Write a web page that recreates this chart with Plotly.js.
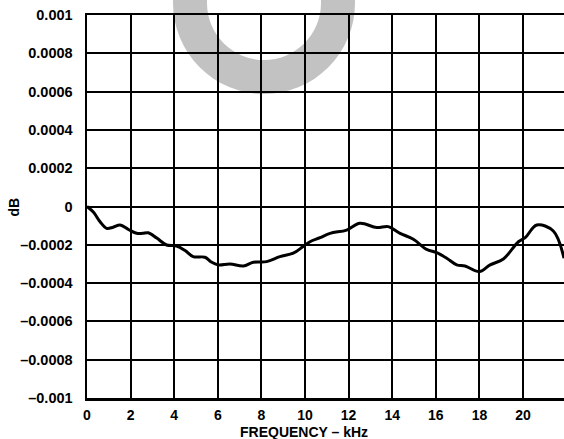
<!DOCTYPE html>
<html>
<head>
<meta charset="utf-8">
<script src="https://cdn.plot.ly/plotly-3.0.1.min.js"></script>
<style>html,body{margin:0;padding:0;background:#fff;}#chart{width:564px;height:439px;}</style>
</head>
<body>
<div id="chart"></div>
<script>
var freqKHz = [0, 0.3, 0.6, 0.9, 1.2, 1.52, 1.9, 2.28, 2.55, 2.81, 3.2, 3.65, 4.11, 4.5, 4.87, 5.41, 5.7, 6.02, 6.56, 7.17, 7.63, 8.24, 8.85, 9.46, 9.9, 10.23, 10.69, 11.15, 11.91, 12.52, 13.29, 13.82, 14.36, 14.97, 15.58, 16.04, 16.5, 16.96, 17.34, 18.0, 18.49, 19.1, 19.79, 20.1, 20.63, 21.39, 21.88];
var gainDB = [0, -0.00003, -0.00008, -0.000114, -0.000108, -0.0000966, -0.00012, -0.00014, -0.00014, -0.000137, -0.000165, -0.000201, -0.000206, -0.00023, -0.000262, -0.000265, -0.00029, -0.000305, -0.0003, -0.000311, -0.000291, -0.000288, -0.000262, -0.000244, -0.00021, -0.000184, -0.000163, -0.00014, -0.000123, -0.0000877, -0.00011, -0.000105, -0.00014, -0.000171, -0.000224, -0.000241, -0.00027, -0.000305, -0.000311, -0.00034, -0.000305, -0.000274, -0.000184, -0.000163, -0.0000966, -0.000128, -0.00027];
var xTickVals = [0, 2, 4, 6, 8, 10, 12, 14, 16, 18, 20];
var xTickText = ['0', '2', '4', '6', '8', '10', '12', '14', '16', '18', '20'];
var yTickVals = [0.001, 0.0008, 0.0006, 0.0004, 0.0002, 0, -0.0002, -0.0004, -0.0006, -0.0008, -0.001];
var yTickText = ['0.001', '0.0008', '0.0006', '0.0004', '0.0002', '0', '\u20130.0002', '\u20130.0004', '\u20130.0006', '\u20130.0008', '\u20130.001'];
var xTitle = 'FREQUENCY \u2013 kHz';
var yTitle = 'dB';

var W = 564, H = 439, L = 87, R = 0, T = 15, B = 41;
function px(xp) { return (xp - L) / (W - L - R); }
function py(yp) { return (H - B - yp) / (H - T - B); }
var FAM = 'Liberation Sans, Arial, sans-serif';

var trace = {
  x: freqKHz, y: gainDB, type: 'scatter', mode: 'lines',
  line: {color: '#000', width: 3, shape: 'spline', smoothing: 1},
  hoverinfo: 'skip', showlegend: false
};

var layout = {
  width: W, height: H,
  margin: {l: L, r: R, t: T, b: B, pad: 0},
  paper_bgcolor: '#fff', plot_bgcolor: 'rgba(0,0,0,0)',
  font: {family: FAM, size: 14, color: '#000', weight: 'bold'},
  showlegend: false,
  xaxis: {
    range: [0, 21.88], tickvals: xTickVals, ticktext: xTickText,
    showgrid: true, gridcolor: '#000', gridwidth: 2,
    showline: true, linecolor: '#000', linewidth: 2.5, mirror: true,
    ticks: '', zeroline: false, ticklabelstandoff: 3,
    tickfont: {family: FAM, size: 14, color: '#000', weight: 'bold'}
  },
  yaxis: {
    range: [-0.001, 0.001], tickvals: yTickVals, ticktext: yTickText,
    showgrid: true, gridcolor: '#000', gridwidth: 2,
    showline: true, linecolor: '#000', linewidth: 2.5, mirror: false,
    ticks: '', zeroline: false, ticklabelstandoff: 9,
    tickfont: {family: FAM, size: 14.5, color: '#000', weight: 'bold'}
  },
  annotations: [
    {text: xTitle, xref: 'paper', yref: 'paper', x: px(303.5), y: py(432), xanchor: 'center', yanchor: 'middle',
     showarrow: false, font: {family: FAM, size: 14, color: '#000', weight: 'bold'}},
    {text: yTitle, xref: 'paper', yref: 'paper', x: px(13.5), y: py(207), xanchor: 'center', yanchor: 'middle',
     textangle: -90, showarrow: false, font: {family: FAM, size: 14, color: '#000', weight: 'bold'}}
  ],
  shapes: [
    {type: 'circle', layer: 'below', xref: 'paper', yref: 'paper',
     xsizemode: 'pixel', ysizemode: 'pixel', xanchor: px(264), yanchor: py(3),
     x0: -91, x1: 91, y0: -91, y1: 91,
     fillcolor: '#c2c2c2', line: {width: 0}},
    {type: 'circle', layer: 'below', xref: 'paper', yref: 'paper',
     xsizemode: 'pixel', ysizemode: 'pixel', xanchor: px(264), yanchor: py(3),
     x0: -57, x1: 57, y0: -57, y1: 57,
     fillcolor: '#ffffff', line: {width: 0}}
  ]
};

Plotly.newPlot('chart', [trace], layout, {staticPlot: true, displayModeBar: false});
</script>
</body>
</html>
